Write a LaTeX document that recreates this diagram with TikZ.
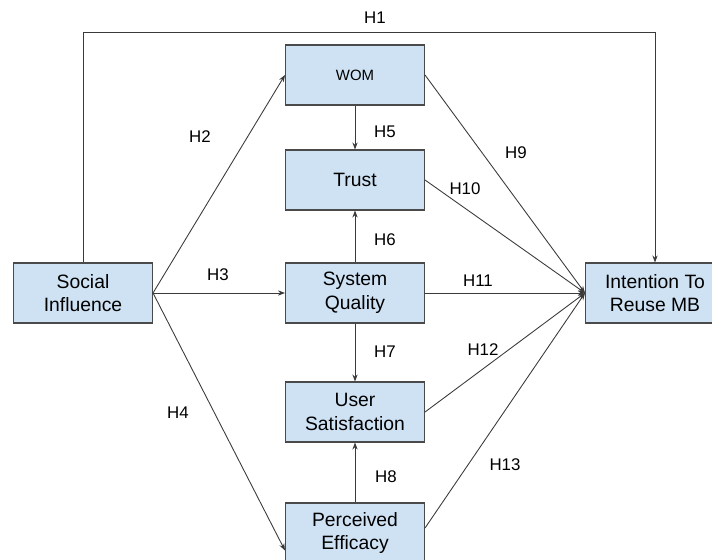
\documentclass[tikz,border=0pt]{standalone}
\usepackage{fontspec}
\setmainfont{Liberation Sans}
\usetikzlibrary{arrows.meta,positioning}
\definecolor{boxfill}{HTML}{CFE2F3}
\definecolor{boxline}{HTML}{4A4A4A}
\definecolor{linegray}{HTML}{3A3A3A}
\begin{document}
\begin{tikzpicture}[x=0.02cm,y=-0.02cm,
  var/.style={draw=boxline, line width=0.6pt, fill=boxfill, minimum width=2.78cm,
    minimum height=1.2cm, inner sep=1pt, align=center, font=\fontsize{11}{13.5}\selectfont},
  path/.style={-{Stealth[length=4pt,width=3pt]}, draw=linegray, line width=0.5pt},
  hyp/.style={font=\fontsize{9.6}{11.5}\selectfont, inner sep=0pt}]

  % Fixed bounding box (pixels of the reference)
  \path[use as bounding box] (0,0) rectangle (712,560);

  % Constructs
  \node[var] (si) at (83,293) {Social\\Influence};
  \node[var, font=\fontsize{8.5}{10}\selectfont] (wom) at (355,75) {WOM};
  \node[var] (trust) at (355,180) {Trust};
  \node[var] (sq) at (355,293) {System\\Quality};
  \node[var] (us) at (355,412) {User\\Satisfaction};
  \node[var] (pe) at (355,533) {Perceived\\Efficacy};
  \node[var] (itr) at (655,293) {Intention To\\Reuse MB};

  % H1 runs over the top
  \coordinate (c1) at (83,32);
  \coordinate (c2) at (655,32);
  \draw[path] (si.north) -- (c1) -- (c2) -- (itr.north);

  % Paths out of Social Influence
  \draw[path] (si.east) -- (wom.west);
  \draw[path] (si.east) -- (sq.west);
  \draw[path] (si.east) -- ([yshift=-0.35cm]pe.west);

  % Paths in the middle column
  \draw[path] (wom.south) -- (trust.north);
  \draw[path] (sq.north) -- (trust.south);
  \draw[path] (sq.south) -- (us.north);
  \draw[path] (pe.north) -- (us.south);

  % Paths into Intention
  \foreach \src/\ys in {wom/0, trust/0, sq/0, us/0, pe/0.1} {
    \draw[path] ([yshift=\ys cm]\src.east) -- (itr.west);
  }

  % Labels
  \node[hyp] (h1) at (375,18) {H1};
  \node[hyp] (h2) at (200,137) {H2};
  \node[hyp] (h3) at (218,275) {H3};
  \node[hyp] (h4) at (178,413) {H4};
  \node[hyp] (h5) at (385,132) {H5};
  \node[hyp] (h6) at (385,240) {H6};
  \node[hyp] (h7) at (385,352) {H7};
  \node[hyp] (h8) at (386,477) {H8};
  \node[hyp] (h9) at (516,153) {H9};
  \node[hyp] (h10) at (465,189) {H10};
  \node[hyp] (h11) at (478,281) {H11};
  \node[hyp] (h12) at (483,350) {H12};
  \node[hyp] (h13) at (505,465) {H13};

\end{tikzpicture}
\end{document}
